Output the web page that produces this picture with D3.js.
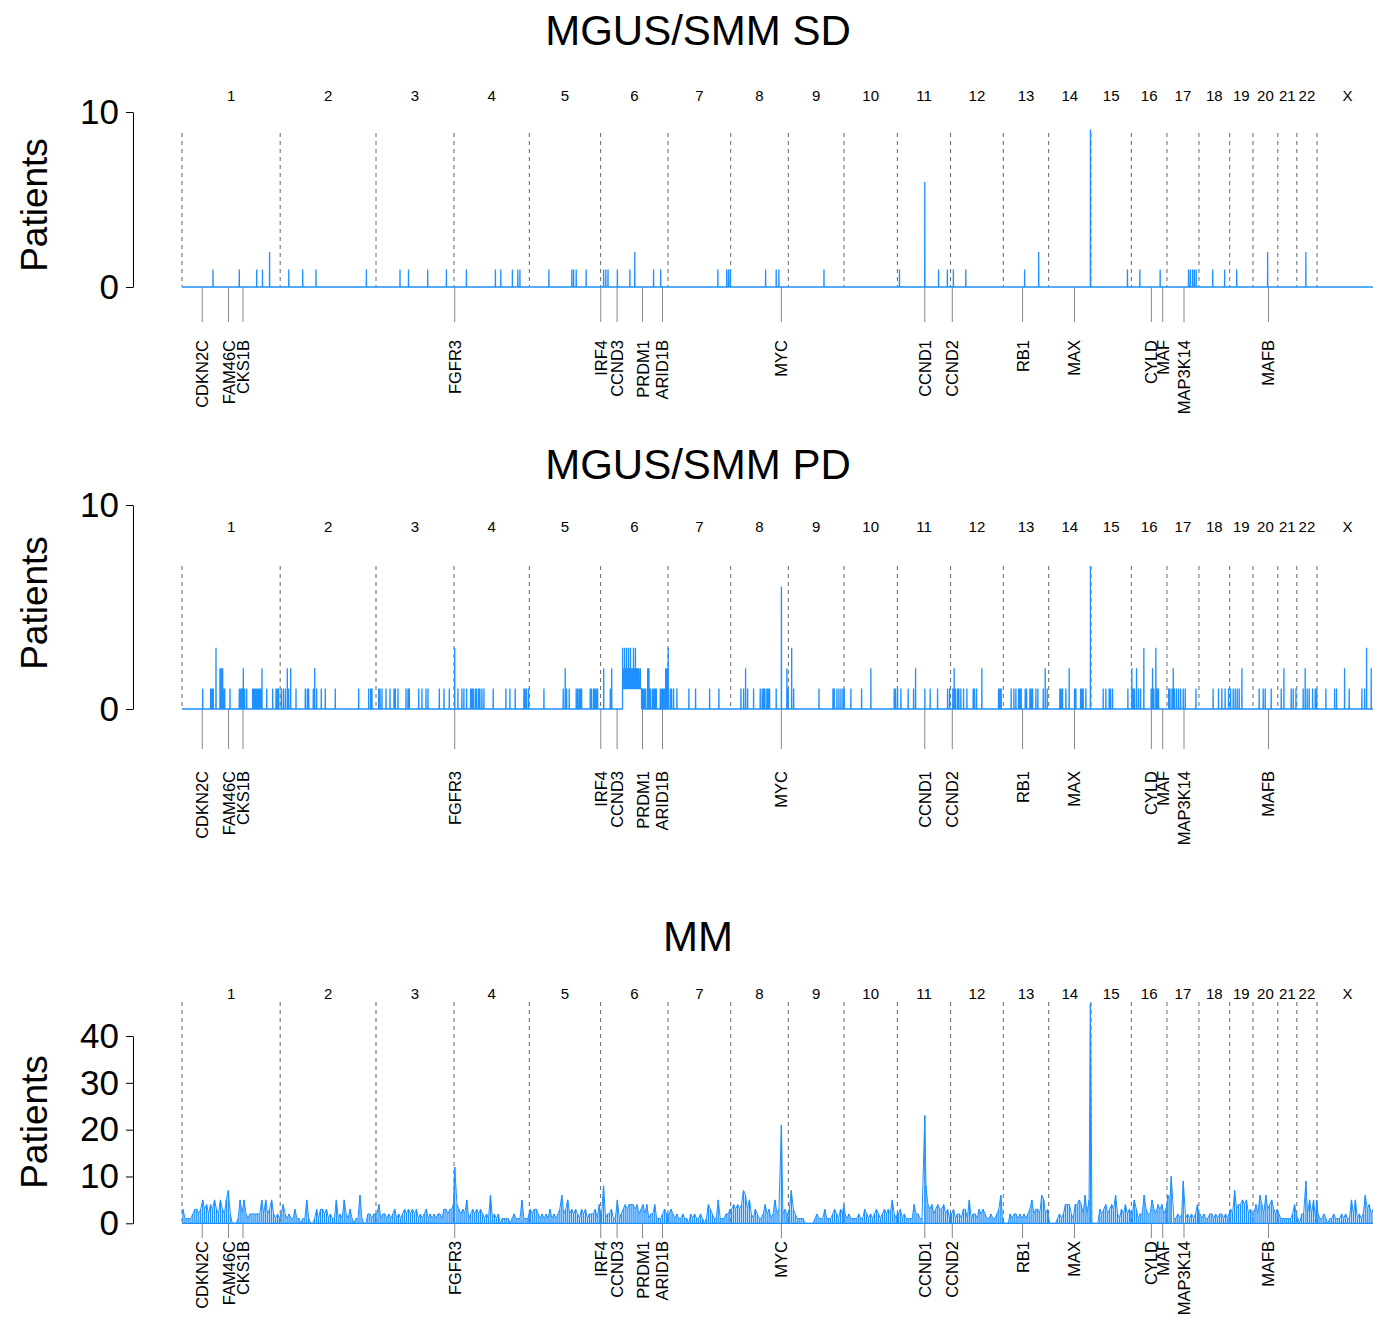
<!DOCTYPE html>
<html>
<head>
<meta charset="utf-8">
<script src="https://cdn.jsdelivr.net/npm/d3@7"></script>
<style>
body { margin: 0; background: #fff; }
text { font-family: "Liberation Sans", Arial, Helvetica, sans-serif; }
</style>
</head>
<body>
<div id="chart"></div>
<script>
// Genome layout (hg19, Mb)
var chromNames = ["1","2","3","4","5","6","7","8","9","10","11","12","13","14","15","16","17","18","19","20","21","22","X"];
var chromLengths = [249.25,243.2,198.02,191.15,180.92,171.12,159.14,146.36,141.21,135.53,135.01,133.85,115.17,107.35,102.53,90.35,81.2,78.08,59.13,63.03,48.13,51.3,155.27];

// Annotated genes: chromosome and position (Mb)
var geneNames = ["CDKN2C","FAM46C","CKS1B","FGFR3","IRF4","CCND3","PRDM1","ARID1B","MYC","CCND1","CCND2","RB1","MAX","CYLD","MAF","MAP3K14","MAFB"];
var geneChrom = ["1","1","1","4","6","6","6","6","8","11","12","13","14","16","16","17","20"];
var genePos = [51.4,118.2,154.9,1.8,0.4,41.9,106.5,157.1,128.7,69.6,4.4,48.9,65.5,50.8,79.6,43.3,39.3];

// MGUS/SMM SD: [chromosome, Mb, patients]
var sdSpikes = [
  ["1",78.7,1],["1",145.4,1],["1",189.6,1],["1",204.3,1],["1",222.3,2],
  ["2",21.8,1],["2",57.1,1],["2",90.9,1],["2",218.8,1],
  ["3",60.9,1],["3",82.5,1],["3",131.2,1],["3",178.7,1],
  ["4",31.5,1],["4",105.1,1],["4",118.8,1],["4",148.2,1],["4",161.9,1],["4",167.3,1],
  ["5",49.7,1],["5",107.9,1],["5",112.4,1],["5",119,1],["5",144.2,1],
  ["6",7.6,1],["6",13.2,1],["6",18.8,1],["6",42.6,1],["6",74.4,1],["6",86.8,2],["6",134.5,1],["6",152.5,1],
  ["7",126.6,1],["7",149,1],["7",153.6,1],["7",158.1,1],
  ["8",88.6,1],["8",115.5,1],["8",122.3,1],
  ["9",90.4,1],
  ["11",5.3,1],["11",69.5,6],["11",104.6,1],["11",126.9,1],
  ["12",7.1,1],["12",38.6,1],
  ["13",54.1,1],["13",89.8,2],
  ["14",106,9],
  ["15",92.6,1],
  ["16",21.6,1],["16",73.1,1],
  ["17",54.8,1],["17",59.4,1],["17",65,1],["17",69.5,1],["17",74.1,1],
  ["18",35,1],["18",65.2,1],
  ["19",17.8,1],
  ["20",37.1,2],
  ["22",23,2]
];

// MGUS/SMM PD: [chromosome, Mb, patients]
var pdSpikes = [
  ["1",52.5,1],["1",72.8,1],["1",76.1,1],["1",79.4,1],["1",86.3,3],["1",96.4,2],["1",99.7,2],["1",103.3,2],["1",104.8,1],["1",108.4,1],
  ["1",121.8,1],["1",145.4,1],["1",149,1],["1",152.3,1],["1",155.6,2],["1",159.1,1],["1",164.2,1],["1",179.4,1],["1",182.7,1],["1",186,1],
  ["1",189.6,1],["1",192.9,1],["1",196.2,1],["1",199.7,1],["1",203,2],["1",215,1],["1",230.2,1],["1",238.6,1],["1",241.9,1],["1",245.4,1],
  ["2",2.8,1],["2",7.9,1],["2",12.9,1],["2",18,2],["2",21.6,1],["2",26.6,2],["2",40.1,1],["2",63.7,1],["2",68.8,1],["2",72.3,1],
  ["2",84,1],["2",87.6,2],["2",92.6,1],["2",104.3,1],["2",114.5,1],["2",139.8,1],["2",199.2,1],["2",224.6,1],["2",229.7,1],["2",233,1],
  ["3",6.9,1],["3",10.2,1],["3",15.2,1],["3",25.4,1],["3",35.5,1],["3",45.7,1],["3",49,1],["3",55.8,1],["3",76.1,1],["3",81.2,1],
  ["3",84.5,1],["3",108.4,1],["3",116.7,1],["3",126.9,1],["3",132,1],["3",160.7,1],["3",172.6,1],["3",186.1,1],
  ["4",1.8,3],["4",9.9,1],["4",20,1],["4",25.1,1],["4",32,1],["4",42.1,1],["4",45.4,1],["4",48.7,1],["4",53.8,1],["4",57.4,1],
  ["4",62.4,1],["4",65.7,1],["4",70.8,1],["4",75.9,1],["4",99.5,1],["4",131.7,1],["4",141.9,1],["4",155.3,1],["4",177.4,1],["4",180.7,1],
  ["4",184.3,1],["4",189.3,1],
  ["5",37.1,1],["5",86,1],["5",91.1,2],["5",94.7,1],["5",101.3,1],["5",119,1],["5",122.6,1],["5",126.6,1],["5",129.2,1],["5",132.7,1],
  ["5",154.6,1],["5",158.1,1],["5",163.2,1],["5",166.5,1],["5",169.8,1],["5",173.4,1],
  ["6",7.9,2],["6",24.6,1],["6",28.2,2],["6",56,3],["6",58.5,2],["6",61,3],["6",63.5,2],["6",66,3],["6",68.5,2],
  ["6",71,3],["6",73.5,2],["6",76,3],["6",78.5,2],["6",81,2],["6",83.5,3],["6",86,2],["6",88.5,3],
  ["6",91,2],["6",94,2],["6",97,2],["6",100.8,2],["6",104.3,1],["6",107.6,1],["6",110.9,1],["6",114.5,1],["6",119.5,2],
  ["6",122.8,2],["6",126.1,1],["6",131.2,1],["6",134.8,1],["6",138.1,1],["6",141.4,1],["6",151.5,1],["6",155.1,1],["6",158.4,1],["6",161.7,1],
  ["6",165.2,2],["6",168.5,2],
  ["7",0.5,3],["7",5.6,1],["7",9.1,1],["7",14.2,1],["7",22.6,1],["7",53,1],["7",70,1],["7",105.6,1],["7",129.2,1],
  ["8",25.9,1],["8",32.7,1],["8",37.8,2],["8",42.9,1],["8",58.1,1],["8",74.9,1],["8",79.9,1],["8",83.5,1],["8",86.8,1],["8",91.9,1],
  ["8",95.2,1],["8",98.7,1],["8",115.5,1],["8",128.7,6],["8",142.6,2],["8",145.9,1],
  ["9",8.4,3],["9",13.5,1],["9",77.7,1],["9",113.2,1],["9",116.5,1],["9",123.3,1],["9",128.4,1],["9",133.5,1],["9",138.6,1],
  ["10",0.5,1],["10",17.5,1],["10",44.7,1],["10",68.3,2],["10",127.4,1],["10",131,1],
  ["11",0.5,1],["11",8.9,1],["11",27.4,1],["11",41.1,1],["11",46.2,2],["11",69.8,1],["11",83.2,1],["11",102,1],["11",127.4,1],["11",132.5,1],
  ["12",5.8,1],["12",9.1,2],["12",12.7,1],["12",17.8,1],["12",21.1,1],["12",26.1,1],["12",33,1],["12",41.4,1],["12",57.4,1],["12",60.9,1],
  ["12",66,1],["12",79.4,2],["12",121.8,1],["12",125.1,1],["12",128.4,1],
  ["13",20,1],["13",26.9,1],["13",32,1],["13",38.8,1],["13",42.1,1],["13",45.4,1],["13",55.6,1],["13",59.1,1],["13",67.5,1],["13",70.8,1],
  ["13",74.4,1],["13",82.7,1],["13",87.8,1],["13",101.3,1],["13",106.3,2],["13",111.4,1],
  ["14",28.4,1],["14",31.7,1],["14",35.3,1],["14",43.7,1],["14",52,2],["14",65.7,1],["14",69,1],["14",81,1],["14",84.3,1],["14",87.6,1],
  ["14",94.4,1],["14",106,7],
  ["15",31,1],["15",37.8,1],["15",46.2,1],["15",49.7,1],["15",54.8,1],["15",93.7,1],
  ["16",1.3,2],["16",4.6,1],["16",8.1,1],["16",13.2,2],["16",18.3,1],["16",23.4,1],["16",31.7,3],["16",50.3,1],["16",53.8,2],["16",57.1,1],
  ["16",62.2,3],["16",65.5,1],["16",69,1],
  ["17",4.3,1],["17",7.6,1],["17",12.7,1],["17",16,2],["17",19.5,1],["17",24.6,1],["17",29.7,1],["17",34.8,1],["17",41.4,1],["17",46.4,1],
  ["17",73.6,1],
  ["18",36,1],["18",49.7,1],["18",58.1,1],["18",66.5,1],["18",75.1,1],
  ["19",2.3,1],["19",8.9,1],["19",14,1],["19",19,1],["19",24.1,1],["19",31,2],
  ["20",15.7,1],["20",25.9,1],["20",31,1],["20",46.2,1],
  ["21",8.6,1],["21",15.5,2],["21",34,1],["21",39.1,1],["21",46,1],
  ["22",16.2,1],["22",21.3,2],["22",26.4,1],["22",31.5,1],["22",40.1,1],["22",46.7,1],["22",50.3,1],
  ["X",22.6,1],["X",44.7,1],["X",49.7,1],["X",70,2],["X",81.7,1],["X",114,1],["X",120.8,1],["X",125.9,3],["X",137.6,2]
];
// PD region where the count does not drop below 1: [chromosome, from Mb, to Mb]
var pdRaised = [["6",55,103]];

// MM: patients per 5 Mb bin, one string per chromosome (one digit per bin)
var mmBins = [
  "31111233235342435325325720001525212222225252352121",
  "2421211311011510013133231211512152131011610022122",
  "2412212123121232323231212312121221332334",
  "643232512323232121612120111101211151112",
  "3233212121312123623523232132312223142",
  "28122311512343444342342412241112322",
  "23212112110212112101432115111223",
  "343434763521321124231252332322",
  "37321111000001211131112321324",
  "2121111211321212321232325212",
  "2312111142211184342343342312",
  "231221331512213232112112361",
  "000212212121235233265231",
  "0000121244421445426253",
  "000032342343621324232",
  "2531226322532434234",
  "65311212212121242",
  "2121122121221212",
  "327344545232",
  "2426426345323",
  "2111111242",
  "10223252515",
  "21121011211121211525121263423211"
];
var mmBinSize = 5;
// MM focal peaks above the background: [chromosome, Mb, patients]
var mmPeaks = [["4",1.8,12],["8",128.7,21],["11",69.5,23],["14",106,47],["17",10.9,10],["17",41.4,9],["22",23,9]];

// ---- layout ----
var width = 1373, height = 1318;
var blue = "#1E90FF";

var panels = [
  {title: "MGUS/SMM SD", titleY: 45, y0: 287, yTop: 112, yMax: 10, ticks: [0,10], chromY: 95, dashTop: 133, geneTickEnd: 322, geneLabelY: 340, ylabY: 205},
  {title: "MGUS/SMM PD", titleY: 479, y0: 709, yTop: 505, yMax: 10, ticks: [0,10], chromY: 526, dashTop: 566, geneTickEnd: 749, geneLabelY: 771, ylabY: 603},
  {title: "MM", titleY: 951, y0: 1223.3, yTop: 1036, yMax: 40, ticks: [0,10,20,30,40], chromY: 993, dashTop: 1002, geneTickEnd: 1238, geneLabelY: 1241, ylabY: 1122}
];

// cumulative chromosome offsets
var chromOffset = {};
var cum = 0;
chromNames.forEach(function(c, i) { chromOffset[c] = cum; cum += chromLengths[i]; });
var genomeLen = cum;
var autosomeLen = d3.sum(chromLengths.slice(0, 22));
var pxPerMb = 1135 / autosomeLen;

function gpos(c, mb) { return chromOffset[c] + mb; }

var x = d3.scaleLinear().domain([0, genomeLen]).range([182, 182 + genomeLen * pxPerMb]);

var svg = d3.select("#chart").append("svg")
    .attr("width", width)
    .attr("height", height);

// points for a spike series (line dropping back to the floor after each spike)
function spikePoints(spikes, raised) {
    var list = spikes.map(function(s) {
        var p = gpos(s[0], s[1]);
        var floor = 0;
        (raised || []).forEach(function(r) {
            if (r[0] === s[0] && s[1] >= r[1] && s[1] <= r[2]) floor = 1;
        });
        return {p: p, v: s[2], f: floor};
    }).sort(function(a, b) { return a.p - b.p; });
    var pts = [[0, 0]];
    var prev = 0;
    list.forEach(function(d) {
        if (d.f !== prev) pts.push([d.p - 0.35, prev]);
        pts.push([d.p - 0.3, d.f], [d.p, d.v], [d.p + 0.3, d.f]);
        prev = d.f;
    });
    pts.push([genomeLen, 0]);
    return pts;
}

// points for the binned MM series
function binPoints() {
    var pts = [];
    chromNames.forEach(function(c, ci) {
        var s = mmBins[ci];
        for (var i = 0; i < s.length; i++) {
            var start = i * mmBinSize;
            var end = Math.min(start + mmBinSize, chromLengths[ci]);
            var pt = {p: gpos(c, (start + end) / 2), v: +s[i]};
            mmPeaks.forEach(function(k) {
                if (k[0] === c && k[1] >= start && k[1] < end) { pt.p = gpos(c, k[1]); pt.v = k[2]; }
            });
            pts.push(pt);
        }
    });
    return pts;
}

panels.forEach(function(pn, pi) {
    var y = d3.scaleLinear().domain([0, pn.yMax]).range([pn.y0, pn.yTop]);
    var g = svg.append("g").attr("class", "panel");

    // title
    g.append("text")
        .attr("x", 698)
        .attr("y", pn.titleY)
        .attr("text-anchor", "middle")
        .style("font-size", "42px")
        .text(pn.title);

    // y axis
    var axis = g.append("g")
        .attr("transform", "translate(133,0)")
        .call(d3.axisLeft(y).tickValues(pn.ticks).tickSize(7).tickSizeOuter(0).tickPadding(7).tickFormat(d3.format("d")));
    axis.selectAll("text")
        .style("font-size", "35px")
        .style("font-family", "'Liberation Sans', Arial, sans-serif")
        .attr("fill", "#000");
    axis.selectAll("line").attr("stroke", "#000");
    axis.select(".domain").attr("stroke", "#000");

    g.append("text")
        .attr("transform", "translate(47," + pn.ylabY + ") rotate(-90)")
        .attr("text-anchor", "middle")
        .style("font-size", "37px")
        .text("Patients");

    // chromosome boundaries and labels
    g.selectAll(".chrline")
        .data(chromNames)
        .enter()
        .append("line")
        .attr("x1", function(c) { return x(chromOffset[c]); })
        .attr("x2", function(c) { return x(chromOffset[c]); })
        .attr("y1", pn.dashTop)
        .attr("y2", pn.y0)
        .attr("stroke", "#666")
        .attr("stroke-width", 1)
        .attr("stroke-dasharray", "4,4");

    g.selectAll(".chrlab")
        .data(chromNames)
        .enter()
        .append("text")
        .attr("x", function(c, i) { return x(chromOffset[c] + chromLengths[i] / 2); })
        .attr("y", pn.chromY)
        .attr("text-anchor", "middle")
        .attr("dominant-baseline", "central")
        .style("font-size", "15px")
        .text(function(c) { return c; });

    // gene ticks and labels
    var genes = geneNames.map(function(n, i) { return {name: n, p: gpos(geneChrom[i], genePos[i])}; });
    g.selectAll(".genetick")
        .data(genes)
        .enter()
        .append("line")
        .attr("x1", function(d) { return x(d.p); })
        .attr("x2", function(d) { return x(d.p); })
        .attr("y1", pn.y0)
        .attr("y2", pn.geneTickEnd)
        .attr("stroke", "#888")
        .attr("stroke-width", 1);
    g.selectAll(".genelab")
        .data(genes)
        .enter()
        .append("text")
        .attr("transform", function(d) { return "translate(" + x(d.p) + "," + pn.geneLabelY + ") rotate(-90)"; })
        .attr("text-anchor", "end")
        .attr("dominant-baseline", "central")
        .style("font-size", "16.5px")
        .text(function(d) { return d.name; });

    // data
    var line = d3.line()
        .x(function(d) { return x(d[0]); })
        .y(function(d) { return y(d[1]); });

    if (pi < 2) {
        var pts = pi === 0 ? spikePoints(sdSpikes) : spikePoints(pdSpikes, pdRaised);
        g.append("path")
            .attr("d", line(pts))
            .attr("fill", "none")
            .attr("stroke", blue)
            .attr("stroke-width", 1.3)
            .attr("stroke-linejoin", "bevel");
    } else {
        var bins = binPoints();
        g.append("line")
            .attr("x1", x(0)).attr("x2", x(genomeLen))
            .attr("y1", y(0)).attr("y2", y(0))
            .attr("stroke", blue).attr("stroke-width", 1.3);
        g.selectAll(".bin")
            .data(bins)
            .enter()
            .append("line")
            .attr("x1", function(d) { return x(d.p); })
            .attr("x2", function(d) { return x(d.p); })
            .attr("y1", y(0))
            .attr("y2", function(d) { return y(d.v); })
            .attr("stroke", blue)
            .attr("stroke-width", 1.3);
        g.append("path")
            .attr("d", line(bins.map(function(d) { return [d.p, d.v]; })))
            .attr("fill", "none")
            .attr("stroke", blue)
            .attr("stroke-width", 1)
            .attr("stroke-linejoin", "bevel");
    }
});
</script>
</body>
</html>
